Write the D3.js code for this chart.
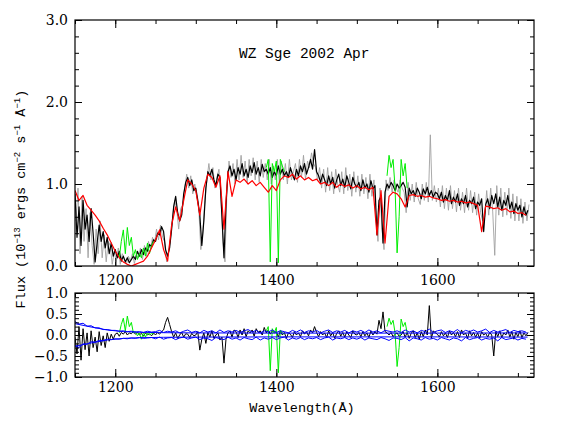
<!DOCTYPE html>
<html>
<head>
<meta charset="utf-8">
<script src="https://cdn.jsdelivr.net/npm/d3@7"></script>
<style>
  body { margin: 0; background: #fff; }
</style>
</head>
<body>
<svg id="chart" width="568" height="425"></svg>
<script>
// spectrum sampling: 2.5 A grid from 1150 A
var fluxStart = 1150, fluxStep = 2.5;
var flux = [
  // 1150
  0.88, 0.35, 0.72, 0.25, 0.80, 0.45, 0.62, 0.30, 0.70, 0.40, 0.05, 0.28, 0.50, 0.30, 0.42, 0.22, 0.35, 0.15, 0.28, 0.12,
  // 1200
  0.20, 0.10, 0.18, 0.06, 0.12, 0.05, 0.10, 0.04, 0.08, 0.12, 0.08, 0.18, 0.12, 0.20, 0.14, 0.22, 0.18, 0.26, 0.24, 0.32,
  // 1250
  0.30, 0.40, 0.38, 0.48, 0.42, 0.20, 0.12, 0.22, 0.45, 0.72, 0.85, 0.65, 0.55, 0.62, 0.88, 1.02, 1.08, 0.98, 1.05, 0.92,
  // 1300
  0.95, 0.80, 0.62, 0.25, 0.55, 0.95, 1.15, 1.10, 1.18, 1.05, 0.98, 1.12, 1.08, 0.60, 0.10, 0.75, 1.15, 1.22, 1.10, 1.18,
  // 1350
  1.05, 1.20, 1.12, 1.25, 1.10, 1.18, 1.08, 1.22, 1.14, 1.26, 1.12, 1.20, 1.10, 1.24, 1.15, 1.18, 1.12, 1.20, 1.08, 1.15,
  // 1400
  1.10, 1.22, 1.12, 1.18, 1.10, 1.15, 1.08, 1.20, 1.12, 1.05, 1.18, 1.10, 1.22, 1.15, 1.25, 1.12, 1.20, 1.30, 1.18, 1.42,
  // 1450
  1.15, 1.10, 1.02, 1.12, 1.05, 0.98, 1.10, 1.00, 1.08, 0.95, 1.05, 1.12, 0.98, 1.06, 0.96, 1.10, 1.02, 0.94, 1.08, 1.00,
  // 1500
  0.96, 1.02, 0.92, 1.05, 0.95, 1.00, 0.90, 1.04, 0.94, 0.98, 0.38, 0.80, 0.85, 0.28, 0.90, 1.00, 0.95, 1.02, 0.98, 0.92,
  // 1550
  1.00, 0.95, 0.98, 1.02, 0.96, 0.72, 0.95, 0.88, 0.92, 0.85, 0.95, 0.90, 0.82, 0.94, 0.88, 0.96, 0.86, 0.92, 0.84, 0.90,
  // 1600
  0.88, 0.82, 0.90, 0.78, 0.86, 0.80, 0.92, 0.76, 0.84, 0.78, 0.88, 0.74, 0.82, 0.76, 0.86, 0.72, 0.80, 0.76, 0.84, 0.70,
  // 1650
  0.78, 0.74, 0.82, 0.42, 0.75, 0.82, 0.70, 0.86, 0.76, 0.88, 0.72, 0.84, 0.68, 0.80, 0.74, 0.86, 0.70, 0.78, 0.64, 0.76,
  // 1700
  0.68, 0.74, 0.60, 0.72, 0.62, 0.68
];

// second (grey) exposure, interleaved 2.5 A grid from 1151.25 A
var greyStart = 1151.25, greyStep = 2.5;
var grey = [
  // 1151.25
  0.55, 0.95, 0.15, 0.85, 0.30, 0.70, 0.10, 0.65, 0.25, 0.02, 0.45, 0.15, 0.55, 0.10, 0.38, 0.05, 0.30, 0.25, 0.02, 0.18,
  // 1201.25
  0.05, 0.22, 0.02, 0.15, 0.08, 0.02, 0.12, 0.06, 0.15, 0.03, 0.14, 0.10, 0.22, 0.08, 0.25, 0.12, 0.30, 0.20, 0.35, 0.28,
  // 1251.25
  0.45, 0.32, 0.50, 0.35, 0.30, 0.05, 0.18, 0.35, 0.60, 0.80, 0.70, 0.45, 0.70, 0.75, 0.95, 1.12, 0.95, 1.10, 0.88, 1.00,
  // 1301.25
  0.85, 0.70, 0.20, 0.40, 0.80, 1.05, 1.25, 1.05, 1.20, 0.95, 1.08, 1.18, 0.85, 0.30, 0.05, 0.95, 1.28, 1.08, 1.25, 1.00,
  // 1351.25
  1.30, 1.05, 1.35, 1.08, 1.28, 1.02, 1.30, 1.10, 1.32, 1.05, 1.28, 1.02, 1.30, 1.08, 1.25, 1.05, 1.30, 1.00, 1.22, 1.05,
  // 1401.25
  1.30, 1.02, 1.28, 1.05, 1.25, 1.00, 1.30, 1.05, 1.15, 1.25, 1.02, 1.30, 1.08, 1.35, 1.05, 1.28, 1.20, 1.38, 1.25, 1.20,
  // 1451.25
  1.05, 1.20, 0.95, 1.18, 0.90, 1.20, 0.92, 1.15, 0.88, 1.18, 1.00, 0.90, 1.15, 0.88, 1.20, 0.92, 1.12, 0.85, 1.15, 0.90,
  // 1501.25
  1.10, 0.85, 1.12, 0.88, 1.08, 0.82, 1.12, 0.85, 1.05, 0.60, 0.30, 0.95, 0.45, 0.20, 1.05, 0.92, 1.08, 0.90, 1.05, 0.95,
  // 1551.25
  0.90, 1.05, 0.95, 0.90, 0.65, 1.02, 0.80, 1.00, 0.78, 1.02, 0.82, 0.75, 1.00, 0.80, 1.02, 0.78, 1.60, 0.80, 0.98, 0.78,
  // 1601.25
  0.95, 0.72, 0.98, 0.70, 0.95, 0.68, 0.98, 0.70, 0.92, 0.66, 0.95, 0.68, 0.90, 0.65, 0.95, 0.68, 0.92, 0.65, 0.90, 0.62,
  // 1651.25
  0.88, 0.65, 0.55, 0.60, 0.92, 0.62, 0.95, 0.66, 0.13, 0.98, 0.62, 0.95, 0.60, 0.90, 0.62, 0.95, 0.58, 0.88, 0.55, 0.85,
  // 1701.25
  0.55, 0.82, 0.52, 0.78, 0.55, 0.75
];

// model (red), 5 A grid from 1150 A
var modelStart = 1150, modelStep = 5;
var model = [
  0.92, 0.80, 0.86, 0.74, 0.68, 0.62, 0.55, 0.46, 0.38, 0.28,
  0.18, 0.10, 0.05, 0.02, 0.00, 0.02, 0.04, 0.06, 0.12, 0.22,
  0.32, 0.44, 0.20, 0.06, 0.50, 0.72, 0.55, 0.80, 1.05, 1.00,
  0.92, 0.62, 0.95, 1.12, 1.08, 0.96, 1.10, 0.45, 1.15, 0.85,
  1.05, 1.02, 1.06, 1.00, 1.04, 0.98, 1.02, 0.96, 0.90, 0.98,
  0.92, 1.05, 1.10, 1.08, 1.12, 1.06, 1.10, 1.05, 1.08, 1.04,
  1.06, 1.00, 1.02, 0.98, 1.02, 0.96, 1.00, 0.97, 0.99, 0.95,
  0.98, 0.94, 0.96, 0.93, 0.96, 0.38, 0.92, 0.28, 0.85, 0.90,
  0.88, 0.82, 0.72, 0.86, 0.87, 0.85, 0.86, 0.84, 0.85, 0.83,
  0.82, 0.80, 0.81, 0.79, 0.80, 0.78, 0.79, 0.77, 0.78, 0.76,
  0.74, 0.42, 0.73, 0.72, 0.70, 0.71, 0.68, 0.70, 0.66, 0.67,
  0.64, 0.65, 0.62
];

// masked regions (green), 2.5 A grid
var maskStarts = [1205, 1387.5, 1537.5];
var maskFlux = [
  [0.10, 0.30, 0.44, 0.15, 0.47, 0.25, 0.35, 0.12, 0.20, 0.08, 0.15, 0.10, 0.22, 0.12, 0.28, 0.15, 0.25, 0.30],
  [1.20, 1.30, 0.05, 1.25, 1.15, 1.28, 0.04, 1.30, 1.22, 1.15],
  [1.10, 1.35, 1.20, 1.30, 0.95, 0.16, 0.60, 1.30, 1.10, 1.25, 0.95]
];
var maskResid = [
  [0.05, 0.25, 0.40, 0.10, 0.45, 0.20, 0.30, 0.05, 0.08, -0.02, 0.05, -0.10, 0.06, -0.05, 0.05, 0.00, 0.04, 0.02],
  [0.10, 0.20, -0.85, 0.15, 0.05, 0.18, -0.90, 0.12, 0.05, 0.02],
  [0.20, 0.40, 0.25, 0.35, 0.05, -0.75, -0.30, 0.38, 0.20, 0.30, 0.05]
];

// residuals, same grid as flux
var resid = [
  -0.05, -0.45, 0.20, -0.60, 0.15, -0.35, 0.05, -0.50, 0.10, -0.30, -0.05, -0.40, 0.08, -0.25, -0.02, -0.30, 0.05, -0.15, 0.02, -0.10,
  0.02, 0.05, -0.03, 0.06, 0.02, 0.08, 0.00, 0.05, 0.03, 0.08, 0.02, 0.06, 0.00, 0.04, -0.03, 0.05, 0.00, 0.03, -0.02, 0.05,
  0.00, 0.06, 0.02, 0.08, 0.12, 0.30, 0.42, 0.25, 0.08, -0.05, 0.05, -0.08, 0.00, 0.06, -0.05, 0.03, 0.02, -0.06, 0.04, -0.02,
  0.00, 0.08, -0.36, -0.10, 0.05, -0.20, 0.06, -0.05, 0.10, -0.08, 0.00, 0.05, -0.12, -0.05, -0.67, -0.10, 0.05, 0.10, -0.05, 0.12,
  0.08, -0.06, 0.12, 0.00, 0.15, -0.04, 0.10, 0.05, 0.12, -0.03, 0.15, 0.06, 0.10, 0.00, 0.18, 0.05, 0.12, 0.02, 0.10, 0.05,
  0.08, -0.05, 0.10, 0.00, 0.06, -0.08, 0.05, 0.02, -0.06, 0.08, 0.00, 0.05, -0.04, 0.10, 0.02, 0.08, -0.02, 0.12, 0.05, 0.20,
  0.06, -0.04, 0.08, 0.00, 0.05, -0.06, 0.10, -0.02, 0.06, -0.08, 0.04, 0.10, -0.03, 0.06, -0.05, 0.08, 0.00, -0.06, 0.10, 0.02,
  0.00, 0.06, -0.04, 0.08, -0.02, 0.05, -0.06, 0.10, 0.00, 0.08, 0.02, 0.35, 0.15, 0.55, 0.08, 0.05, 0.00, 0.06, -0.04, 0.02,
  0.05, -0.03, 0.00, 0.08, -0.05, 0.06, -0.08, 0.04, 0.10, -0.06, 0.05, -0.10, 0.08, -0.04, 0.12, 0.00, 0.70, -0.08, 0.10, 0.05,
  0.02, -0.05, 0.08, -0.02, 0.05, -0.06, 0.10, 0.00, 0.06, -0.04, 0.08, -0.06, 0.12, 0.00, 0.05, -0.08, 0.10, -0.02, 0.06, -0.05,
  0.05, -0.08, 0.08, 0.00, 0.04, -0.05, 0.06, 0.00, -0.50, 0.08, -0.04, 0.10, -0.06, 0.05, 0.00, 0.12, -0.05, 0.08, -0.10, 0.06,
  -0.04, 0.10, -0.06, 0.05, -0.02, 0.06
];

// error spectra (blue), 5 A grid from 1150 A
var errUpper = [
  0.32, 0.26, 0.28, 0.21, 0.22, 0.17, 0.17, 0.13, 0.13, 0.11,
  0.11, 0.09, 0.10, 0.08, 0.09, 0.07, 0.08, 0.06, 0.09, 0.07,
  0.08, 0.11, 0.06, 0.09, 0.07, 0.10, 0.05, 0.09, 0.12, 0.06,
  0.09, 0.05, 0.11, 0.07, 0.10, 0.05, 0.12, 0.06, 0.10, 0.07,
  0.11, 0.06, 0.10, 0.13, 0.07, 0.11, 0.05, 0.10, 0.07, 0.12,
  0.06, 0.10, 0.08, 0.05, 0.11, 0.07, 0.12, 0.06, 0.10, 0.07,
  0.11, 0.05, 0.09, 0.12, 0.06, 0.10, 0.07, 0.11, 0.05, 0.10,
  0.07, 0.11, 0.06, 0.12, 0.07, 0.10, 0.05, 0.11, 0.09, 0.07,
  0.10, 0.06, 0.12, 0.07, 0.10, 0.05, 0.11, 0.08, 0.14, 0.06,
  0.10, 0.12, 0.06, 0.10, 0.07, 0.13, 0.05, 0.11, 0.08, 0.12,
  0.07, 0.10, 0.14, 0.06, 0.11, 0.07, 0.10, 0.13, 0.06, 0.11,
  0.08, 0.10, 0.07
];
var errLower = [
  -0.25, -0.30, -0.21, -0.22, -0.16, -0.17, -0.13, -0.13, -0.10, -0.11,
  -0.09, -0.10, -0.08, -0.09, -0.07, -0.08, -0.06, -0.08, -0.07, -0.06,
  -0.09, -0.05, -0.10, -0.07, -0.06, -0.11, -0.07, -0.05, -0.10, -0.07,
  -0.05, -0.11, -0.07, -0.09, -0.13, -0.06, -0.09, -0.11, -0.05, -0.10,
  -0.07, -0.12, -0.06, -0.09, -0.11, -0.05, -0.12, -0.07, -0.10, -0.06,
  -0.11, -0.07, -0.05, -0.12, -0.07, -0.10, -0.06, -0.11, -0.07, -0.09,
  -0.06, -0.11, -0.07, -0.05, -0.12, -0.07, -0.09, -0.06, -0.11, -0.07,
  -0.10, -0.06, -0.12, -0.07, -0.09, -0.11, -0.06, -0.09, -0.13, -0.07,
  -0.08, -0.11, -0.06, -0.14, -0.07, -0.09, -0.12, -0.06, -0.10, -0.08,
  -0.12, -0.06, -0.09, -0.12, -0.07, -0.09, -0.14, -0.06, -0.11, -0.08,
  -0.06, -0.12, -0.08, -0.10, -0.07, -0.14, -0.06, -0.11, -0.09, -0.07,
  -0.12, -0.08, -0.10
];
// smoothed error envelope
var envWave = [1150, 1170, 1190, 1210, 1230, 1260, 1300, 1400, 1500, 1600, 1712];
var envErr  = [0.27, 0.19, 0.12, 0.08, 0.065, 0.055, 0.05, 0.045, 0.045, 0.045, 0.05];

var xLabels = [1200, 1400, 1600];
var topLabels = [0, 1, 2, 3];
var botLabels = [-1, -0.5, 0, 0.5, 1];

var svg = d3.select("#chart");
var left = 75, right = 534;
var x = d3.scaleLinear().domain([1150, 1720]).range([left, right]);
var yTop = d3.scaleLinear().domain([0, 3]).range([266, 20]);
var yBot = d3.scaleLinear().domain([-1, 1]).range([377, 293]);

function grid(start, step, vals) {
  return vals.map(function(v, i) { return [start + i * step, v]; });
}

function drawAxes(y, majorY, minorY, xPad) {
  var g = svg.append("g");
  var top = y.range()[1], bot = y.range()[0];
  var minorX = d3.range(1150, 1721, 50);
  g.append("g").attr("transform", "translate(0," + bot + ")")
    .call(d3.axisBottom(x).tickValues(minorX).tickSize(-4).tickFormat(""));
  g.append("g").attr("transform", "translate(0," + bot + ")")
    .call(d3.axisBottom(x).tickValues(xLabels).tickSize(-8).tickPadding(xPad).tickFormat(d3.format("d")));
  g.append("g").attr("transform", "translate(0," + top + ")")
    .call(d3.axisTop(x).tickValues(minorX).tickSize(-4).tickFormat(""));
  g.append("g").attr("transform", "translate(0," + top + ")")
    .call(d3.axisTop(x).tickValues(xLabels).tickSize(-8).tickFormat(""));
  g.append("g").attr("transform", "translate(" + left + ",0)")
    .call(d3.axisLeft(y).tickValues(minorY).tickSize(-4).tickFormat(""));
  g.append("g").attr("transform", "translate(" + left + ",0)")
    .call(d3.axisLeft(y).tickValues(majorY).tickSize(-7).tickPadding(7).tickFormat(d3.format(".1f")));
  g.append("g").attr("transform", "translate(" + right + ",0)")
    .call(d3.axisRight(y).tickValues(minorY).tickSize(-4).tickFormat(""));
  g.append("g").attr("transform", "translate(" + right + ",0)")
    .call(d3.axisRight(y).tickValues(majorY).tickSize(-7).tickFormat(""));
  g.selectAll(".domain").remove();
  g.selectAll(".tick line").attr("stroke", "#000");
  g.selectAll(".tick text")
    .style("font-family", "'DejaVu Serif', 'Liberation Serif', serif")
    .style("font-size", "14px").attr("fill", "#000");
  g.append("rect").attr("x", left).attr("y", top)
    .attr("width", right - left).attr("height", bot - top)
    .attr("fill", "none").attr("stroke", "#000").attr("stroke-width", 1.2);
}

function clip(id, y) {
  svg.append("clipPath").attr("id", id).append("rect")
    .attr("x", left).attr("y", y.range()[1])
    .attr("width", right - left).attr("height", y.range()[0] - y.range()[1]);
}
clip("clipTop", yTop);
clip("clipBot", yBot);

function addLine(g, y, data, color, width) {
  var line = d3.line().x(function(d) { return x(d[0]); }).y(function(d) { return y(d[1]); });
  g.append("path").datum(data).attr("d", line)
    .attr("fill", "none").attr("stroke", color).attr("stroke-width", width)
    .attr("stroke-linejoin", "round");
}

// top panel
var gTop = svg.append("g").attr("clip-path", "url(#clipTop)");
addLine(gTop, yTop, grid(greyStart, greyStep, grey), "#a0a0a0", 0.9);
addLine(gTop, yTop, grid(fluxStart, fluxStep, flux), "#000", 1.2);
maskFlux.forEach(function(vals, i) {
  addLine(gTop, yTop, grid(maskStarts[i], 2.5, vals), "#00ee00", 1);
});
addLine(gTop, yTop, grid(modelStart, modelStep, model), "#ff0000", 1.2);

// bottom panel
var gBot = svg.append("g").attr("clip-path", "url(#clipBot)");
addLine(gBot, yBot, grid(fluxStart, fluxStep, resid), "#000", 1);
maskResid.forEach(function(vals, i) {
  addLine(gBot, yBot, grid(maskStarts[i], 2.5, vals), "#00ee00", 1);
});
addLine(gBot, yBot, grid(modelStart, modelStep, errUpper), "#0000ff", 1);
addLine(gBot, yBot, grid(modelStart, modelStep, errLower), "#0000ff", 1);
addLine(gBot, yBot, envWave.map(function(w, i) { return [w, envErr[i]]; }), "#0000ff", 1);
addLine(gBot, yBot, envWave.map(function(w, i) { return [w, -envErr[i]]; }), "#0000ff", 1);

drawAxes(yTop, topLabels, d3.range(0, 3.01, 0.2), 9);
drawAxes(yBot, botLabels, d3.range(-1, 1.01, 0.1), 5);

// labels
svg.append("text").attr("x", 239).attr("y", 58)
  .style("font-family", "'Liberation Mono', monospace").style("font-size", "14.5px")
  .text("WZ Sge 2002 Apr");

svg.append("text").attr("x", 302).attr("y", 412).attr("text-anchor", "middle")
  .style("font-family", "'Liberation Mono', monospace").style("font-size", "13.5px")
  .text("Wavelength(\u00c5)");

var yl = svg.append("text").attr("transform", "translate(25,199) rotate(-90)")
  .attr("text-anchor", "middle")
  .style("font-family", "'Liberation Mono', monospace").style("font-size", "13.5px");
var parts = [["Flux (10", 0], ["\u221213", 1], [" ergs cm", 0], ["\u22122", 1], [" s", 0], ["\u22121", 1], [" \u00c5", 0], ["\u22121", 1], [")", 0]];
var prev = 0;
parts.forEach(function(p) {
  var sh = p[1] ? -5 : 0;
  yl.append("tspan").attr("dy", sh - prev).style("font-size", p[1] ? "9px" : null).text(p[0]);
  prev = sh;
});
</script>
</body>
</html>
